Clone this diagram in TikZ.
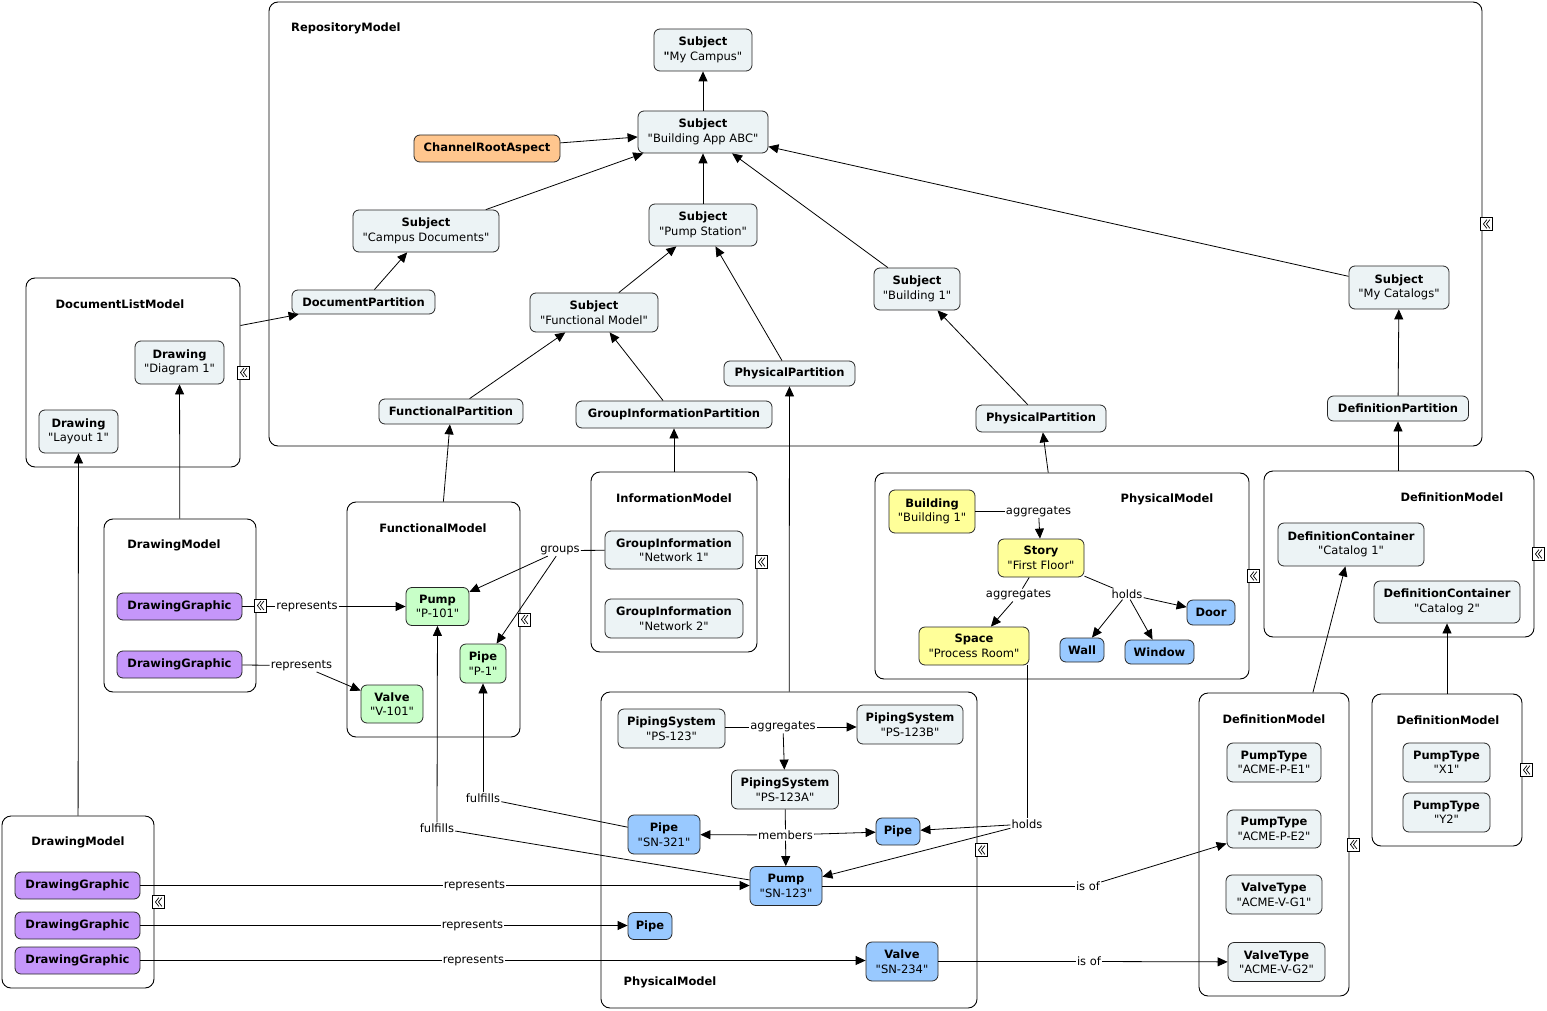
\documentclass[tikz,border=0pt]{standalone}
\usepackage{fontspec}
\setmainfont{DejaVu Sans}[Ligatures=TeXOff]
\usetikzlibrary{arrows.meta}
\definecolor{cgray}{HTML}{ECF3F5}
\definecolor{corange}{HTML}{FFC68E}
\definecolor{cgreen}{HTML}{C8FFC8}
\definecolor{cyellow}{HTML}{FFFF99}
\definecolor{cblue}{HTML}{99C9FF}
\definecolor{cpurple}{HTML}{C596FA}
\newcommand{\myfs}{\fontsize{11.5}{14.5}\selectfont}
\tikzset{
  obj/.style={draw=black!85, rounded corners=6pt, align=center, inner sep=1pt, line width=0.8pt, font=\myfs},
  og/.style={obj, fill=cgray},
  oo/.style={obj, fill=corange},
  ogr/.style={obj, fill=cgreen},
  oy/.style={obj, fill=cyellow},
  ob/.style={obj, fill=cblue},
  op/.style={obj, fill=cpurple},
  cont/.style={draw=black, rounded corners=9pt, inner sep=0pt, line width=0.9pt},
  ctitle/.style={font=\myfs\bfseries, inner sep=0pt},
  lp/.style={font=\myfs, inner sep=1pt},
  arr/.style={-{Triangle[length=10pt,width=9pt]}, line width=0.8pt},
  ln/.style={line width=0.8pt},
  mk/.style={draw, fill=white, inner sep=0pt, minimum width=12pt, minimum height=13pt, line width=0.7pt},
  chev/.style={line width=0.7pt, line join=miter}
}
\begin{document}
\begin{tikzpicture}[x=1pt,y=-1pt]
\useasboundingbox (0,0) rectangle (1547,1011);

% ---------- containers ----------
\node[cont, minimum width=1213pt, minimum height=444pt] (repo) at (875.5,224) {};
\node[cont, minimum width=214pt, minimum height=189pt] (dlm) at (133,372.5) {};
\node[cont, minimum width=152pt, minimum height=173pt] (dmA) at (180,605.5) {};
\node[cont, minimum width=173pt, minimum height=235pt] (fm) at (433.5,619.5) {};
\node[cont, minimum width=166pt, minimum height=180pt] (im) at (674,562) {};
\node[cont, minimum width=374pt, minimum height=206pt] (pmA) at (1062,576) {};
\node[cont, minimum width=270pt, minimum height=166pt] (defA) at (1399,554) {};
\node[cont, minimum width=376pt, minimum height=316pt] (pmB) at (789,850) {};
\node[cont, minimum width=150pt, minimum height=303pt] (defB) at (1274,844.5) {};
\node[cont, minimum width=150pt, minimum height=152pt] (defC) at (1447,770) {};
\node[cont, minimum width=152pt, minimum height=172pt] (dmB) at (78,902) {};

\node[ctitle, anchor=west] (trepo) at (291,28) {RepositoryModel};
\node[ctitle] (tdlm) at (120,304) {DocumentListModel};
\node[ctitle] (tdmA) at (174,545) {DrawingModel};
\node[ctitle] (tfm) at (433,528) {FunctionalModel};
\node[ctitle] (tim) at (674,498) {InformationModel};
\node[ctitle] (tpmA) at (1167,499) {PhysicalModel};
\node[ctitle] (tdefA) at (1452,497) {DefinitionModel};
\node[ctitle] (tpmB) at (670,982) {PhysicalModel};
\node[ctitle] (tdefB) at (1274,719) {DefinitionModel};
\node[ctitle] (tdefC) at (1448,720) {DefinitionModel};
\node[ctitle] (tdmB) at (78,842) {DrawingModel};

% ---------- repository nodes ----------
\node[og, minimum width=98pt, minimum height=42pt] (campus) at (703,50) {\textbf{Subject}\\\textbf{"}My Campus"};
\node[og, minimum width=130pt, minimum height=42pt] (abc) at (703,132) {\textbf{Subject}\\"Building App ABC"};
\node[oo, minimum width=146pt, minimum height=27pt] (cra) at (487,148.5) {\textbf{ChannelRootAspect}};
\node[og, minimum width=146pt, minimum height=42pt] (cdocs) at (426,231) {\textbf{Subject}\\"Campus Documents"};
\node[og, minimum width=108pt, minimum height=42pt] (pstation) at (703,225) {\textbf{Subject}\\"Pump Station"};
\node[og, minimum width=143pt, minimum height=24pt] (docpart) at (363.5,302) {\textbf{DocumentPartition}};
\node[og, minimum width=128pt, minimum height=39pt] (sfunc) at (594,312.5) {\textbf{Subject}\\"Functional Model"};
\node[og, minimum width=86pt, minimum height=42pt] (sbld) at (917,289) {\textbf{Subject}\\"Building 1"};
\node[og, minimum width=100pt, minimum height=43pt] (scat) at (1399,287.5) {\textbf{Subject}\\"My Catalogs"};
\node[og, minimum width=131pt, minimum height=25pt] (ppA) at (789.5,373.5) {\textbf{PhysicalPartition}};
\node[og, minimum width=144pt, minimum height=25pt] (fpart) at (451,411.5) {\textbf{FunctionalPartition}};
\node[og, minimum width=196pt, minimum height=27pt] (gipart) at (674,414.5) {\textbf{GroupInformationPartition}};
\node[og, minimum width=130pt, minimum height=27pt] (ppB) at (1041,418.5) {\textbf{PhysicalPartition}};
\node[og, minimum width=141pt, minimum height=25pt] (defpart) at (1398,408.5) {\textbf{DefinitionPartition}};

% ---------- document list ----------
\node[og, minimum width=89pt, minimum height=43pt] (diag) at (179.5,362.5) {\textbf{Drawing}\\"Diagram 1"};
\node[og, minimum width=79pt, minimum height=43pt] (lay) at (78.5,431.5) {\textbf{Drawing}\\"Layout 1"};

% ---------- drawing model A ----------
\node[op, minimum width=125pt, minimum height=27pt] (dgA) at (179.5,606.5) {\textbf{DrawingGraphic}};
\node[op, minimum width=125pt, minimum height=27pt] (dgB) at (179.5,664.5) {\textbf{DrawingGraphic}};

% ---------- functional model ----------
\node[ogr, minimum width=63pt, minimum height=38pt] (p101) at (437.5,606.5) {\textbf{Pump}\\"P-101"};
\node[ogr, minimum width=46pt, minimum height=39pt] (pp1) at (483,663.5) {\textbf{Pipe}\\"P-1"};
\node[ogr, minimum width=62pt, minimum height=38pt] (v101) at (392,704) {\textbf{Valve}\\"V-101"};

% ---------- information model ----------
\node[og, minimum width=138pt, minimum height=38pt] (gi1) at (674,550) {\textbf{GroupInformation}\\"Network 1"};
\node[og, minimum width=138pt, minimum height=39pt] (gi2) at (674,618.5) {\textbf{GroupInformation}\\"Network 2"};

% ---------- physical model A ----------
\node[oy, minimum width=86pt, minimum height=43pt] (bld) at (932,511.5) {\textbf{Building}\\"Building 1"};
\node[oy, minimum width=86pt, minimum height=38pt] (story) at (1041,558) {\textbf{Story}\\"First Floor"};
\node[oy, minimum width=110pt, minimum height=38pt] (space) at (974,646) {\textbf{Space}\\"Process Room"};
\node[ob, minimum width=48pt, minimum height=25pt] (door) at (1211,612.5) {\textbf{Door}};
\node[ob, minimum width=44pt, minimum height=24pt] (wall) at (1082,650) {\textbf{Wall}};
\node[ob, minimum width=69pt, minimum height=24pt] (window) at (1159.5,652) {\textbf{Window}};

% ---------- definition model A ----------
\node[og, minimum width=146pt, minimum height=43pt] (dc1) at (1351,544.5) {\textbf{DefinitionContainer}\\"Catalog 1"};
\node[og, minimum width=146pt, minimum height=42pt] (dc2) at (1447,602) {\textbf{DefinitionContainer}\\"Catalog 2"};

% ---------- physical model B ----------
\node[og, minimum width=107pt, minimum height=39pt] (ps) at (671.5,728.5) {\textbf{PipingSystem}\\"PS-123"};
\node[og, minimum width=106pt, minimum height=39pt] (psb) at (910,724.5) {\textbf{PipingSystem}\\"PS-123B"};
\node[og, minimum width=107pt, minimum height=39pt] (psa) at (785,789.5) {\textbf{PipingSystem}\\"PS-123A"};
\node[ob, minimum width=72pt, minimum height=39pt] (sn321) at (664,834.5) {\textbf{Pipe}\\"SN-321"};
\node[ob, minimum width=44pt, minimum height=27pt] (pipeR) at (898,831.5) {\textbf{Pipe}};
\node[ob, minimum width=72pt, minimum height=39pt] (sn123) at (786,886) {\textbf{Pump}\\"SN-123"};
\node[ob, minimum width=44pt, minimum height=27pt] (pipeB) at (650,926) {\textbf{Pipe}};
\node[ob, minimum width=72pt, minimum height=39pt] (sn234) at (902,961.5) {\textbf{Valve}\\"SN-234"};

% ---------- definition models B, C ----------
\node[og, minimum width=94pt, minimum height=39pt] (pte1) at (1274,762.5) {\textbf{PumpType}\\"ACME-P-E1"};
\node[og, minimum width=94pt, minimum height=38pt] (pte2) at (1274,829) {\textbf{PumpType}\\"ACME-P-E2"};
\node[og, minimum width=96pt, minimum height=39pt] (vtg1) at (1274,894.5) {\textbf{ValveType}\\"ACME-V-G1"};
\node[og, minimum width=97pt, minimum height=39pt] (vtg2) at (1276.5,962) {\textbf{ValveType}\\"ACME-V-G2"};
\node[og, minimum width=87pt, minimum height=39pt] (ptx1) at (1446.5,762.5) {\textbf{PumpType}\\"X1"};
\node[og, minimum width=87pt, minimum height=39pt] (pty2) at (1446.5,812.5) {\textbf{PumpType}\\"Y2"};

% ---------- drawing model B ----------
\node[op, minimum width=125pt, minimum height=27pt] (dgC) at (77.5,885.5) {\textbf{DrawingGraphic}};
\node[op, minimum width=125pt, minimum height=27pt] (dgD) at (77.5,925.5) {\textbf{DrawingGraphic}};
\node[op, minimum width=125pt, minimum height=27pt] (dgE) at (77.5,960.5) {\textbf{DrawingGraphic}};

% ---------- linking phrases ----------
\node[lp] (rep1) at (307,606.5) {represents};
\node[lp] (rep2) at (301.5,665.5) {represents};
\node[lp] (groups) at (560,550.5) {groups};
\node[lp] (aggPS) at (783,727) {aggregates};
\node[lp] (members) at (785.5,835) {members};
\node[lp] (ful1) at (483,798) {fulfills};
\node[lp] (ful2) at (437,828) {fulfills};
\node[lp] (holds2) at (1027,824) {holds};
\node[lp] (isof1) at (1088,886) {is of};
\node[lp] (isof2) at (1089,961.5) {is of};
\node[lp] (rep3) at (474.5,885.5) {represents};
\node[lp] (rep4) at (472.5,925.5) {represents};
\node[lp] (rep5) at (473.5,960.5) {represents};
\node[lp] (aggB) at (1038.5,511.5) {aggregates};
\node[lp] (aggS) at (1018.5,595) {aggregates};
\node[lp] (holds1) at (1127,594) {holds};

% ---------- repository edges ----------
\draw[arr] (abc) -- (campus);
\draw[arr] (cra) -- (abc);
\draw[arr] (cdocs) -- (abc);
\draw[arr] (pstation) -- (abc);
\draw[arr] (sbld) -- (abc);
\draw[arr] (scat) -- (abc);
\draw[arr] (docpart) -- (cdocs);
\draw[arr] (sfunc) -- (pstation);
\draw[arr] (ppA) -- (pstation);
\draw[arr] (fpart) -- (sfunc);
\draw[arr] (gipart) -- (sfunc);
\draw[arr] (ppB) -- (sbld);
\draw[arr] (defpart) -- (scat);

% ---------- model to partition edges ----------
\draw[arr] ([yshift=47pt]dlm.east) -- (docpart);
\draw[arr] (fm) -- (fpart);
\draw[arr] (im) -- (gipart);
\draw[arr] (pmB) -- (ppA);
\draw[arr] (pmA) -- (ppB);
\draw[arr] (defpart |- defA.north) -- (defpart);
\draw[arr] (dmA) -- (diag);
\draw[arr] (dmB) -- (lay);
\draw[arr] (defB) -- (dc1);
\draw[arr] (defC) -- (dc2);

% ---------- labelled relations ----------
\draw[ln] (dgA) -- (rep1);
\draw[arr] (rep1) -- (p101);
\draw[ln] (dgB) -- (rep2);
\draw[arr] (rep2) -- (v101);
\draw[ln] (gi1) -- (groups);
\draw[arr] (groups) -- (p101);
\draw[arr] (groups) -- (pp1);
\draw[ln] (ps.east |- aggPS) -- (aggPS);
\draw[arr] (aggPS) -- (psb.west |- aggPS);
\draw[arr] (aggPS) -- (psa);
\draw[ln] (psa) -- (members);
\draw[arr] (members) -- (sn321);
\draw[arr] (members) -- (pipeR);
\draw[arr] (members) -- (sn123);
\draw[ln] (sn321) -- (ful1);
\draw[arr] (ful1) -- (pp1);
\draw[ln] (sn123) -- (ful2);
\draw[arr] (ful2) -- (p101);
\draw[ln] (holds2 |- space.south) -- (holds2);
\draw[arr] (holds2) -- (pipeR);
\draw[arr] (holds2) -- (sn123);
\draw[ln] (sn123) -- (isof1);
\draw[arr] (isof1) -- (pte2);
\draw[ln] (sn234) -- (isof2);
\draw[arr] (isof2) -- (vtg2);
\draw[ln] (dgC) -- (rep3);
\draw[arr] (rep3) -- (sn123.west |- rep3);
\draw[ln] (dgD) -- (rep4);
\draw[arr] (rep4) -- (pipeB.west |- rep4);
\draw[ln] (dgE) -- (rep5);
\draw[arr] (rep5) -- (sn234.west |- rep5);
\draw[ln] (bld) -- (aggB);
\draw[arr] (aggB) -- (story);
\draw[ln] (story) -- (aggS);
\draw[arr] (aggS) -- (space);
\draw[ln] (story) -- (holds1);
\draw[arr] (holds1) -- (door);
\draw[arr] (holds1) -- (wall);
\draw[arr] (holds1) -- (window);

% ---------- collapse markers ----------
\node[mk] (m1) at ([xshift=4pt]repo.east) {};
\node[mk] (m2) at ([xshift=3pt]dlm.east) {};
\node[mk] (m3) at ([xshift=4pt]dmA.east) {};
\node[mk] (m4) at ([xshift=4pt]fm.east) {};
\node[mk] (m5) at ([xshift=4pt]im.east) {};
\node[mk] (m6) at ([xshift=4pt]pmA.east) {};
\node[mk] (m7) at ([xshift=4pt]defA.east) {};
\node[mk] (m8) at ([xshift=4pt]pmB.east) {};
\node[mk] (m9) at ([xshift=4pt]defB.east) {};
\node[mk] (m10) at ([xshift=4pt]defC.east) {};
\node[mk] (m11) at ([xshift=4pt]dmB.east) {};
\foreach \m in {m1,m2,m3,m4,m5,m6,m7,m8,m9,m10,m11} {
  \draw[chev] ([shift={(0.5pt,4.5pt)}]\m.center) -- ([shift={(-3pt,0pt)}]\m.center) -- ([shift={(0.5pt,-4.5pt)}]\m.center);
  \draw[chev] ([shift={(3.5pt,4.5pt)}]\m.center) -- ([shift={(0pt,0pt)}]\m.center) -- ([shift={(3.5pt,-4.5pt)}]\m.center);
}
\end{tikzpicture}
\end{document}
